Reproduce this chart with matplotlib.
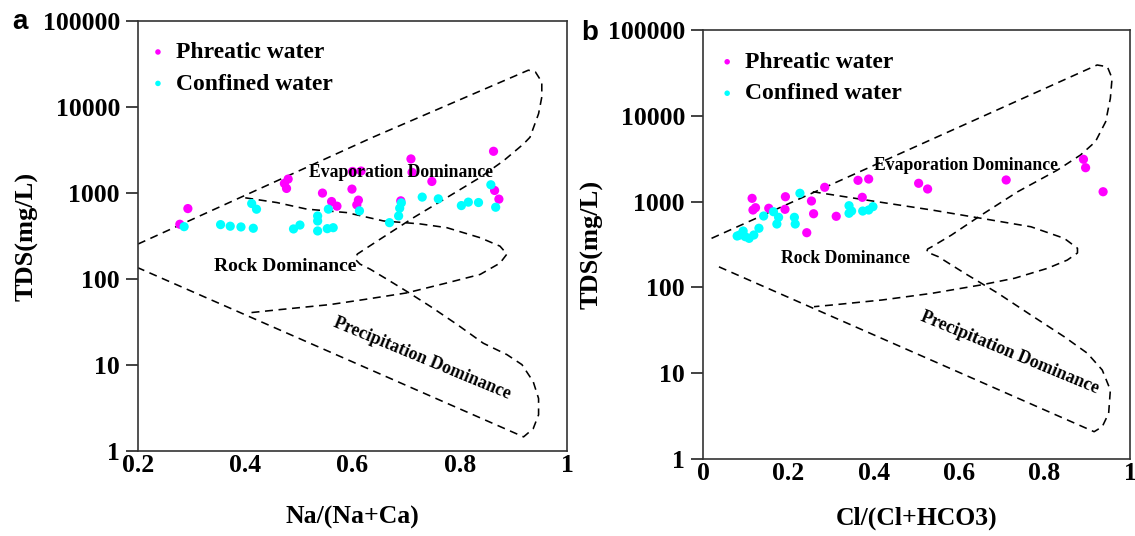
import matplotlib
matplotlib.use("Agg")
import matplotlib.pyplot as plt

plt.rcParams['font.family'] = ['Liberation Serif', 'DejaVu Serif']
plt.rcParams['font.weight'] = 'bold'

# ---------------- Panel a data: Na/(Na+Ca) vs TDS ----------------
a_phreatic_x = [0.278, 0.293, 0.473, 0.480, 0.477, 0.544, 0.561, 0.571, 0.599, 0.611,
                0.608, 0.690, 0.709, 0.711, 0.748, 0.863, 0.865, 0.873, 0.600, 0.616]
a_phreatic_tds = [433, 659, 1291, 1452, 1130, 998, 796, 703, 1110, 826,
                  728, 811, 2490, 1738, 1362, 3055, 1070, 849, 1780, 1800]

a_confined_x = [0.286, 0.354, 0.372, 0.392, 0.415, 0.412, 0.421, 0.490, 0.502, 0.535,
                0.535, 0.535, 0.553, 0.564, 0.555, 0.613, 0.669, 0.686, 0.688, 0.691,
                0.730, 0.760, 0.803, 0.816, 0.835, 0.858, 0.867]
a_confined_tds = [406, 429, 411, 403, 389, 754, 648, 382, 424, 362,
                  473, 541, 385, 395, 649, 620, 452, 541, 666, 767,
                  896, 855, 714, 783, 775, 1247, 683]

# Gibbs boundary (outer curve) for panel a
a_outer_x = [0.200, 0.638, 0.928, 0.941, 0.953, 0.953, 0.947, 0.931, 0.919, 0.882,
             0.838, 0.776, 0.714, 0.651, 0.609, 0.605, 0.614, 0.633, 0.664, 0.701,
             0.745, 0.795, 0.844, 0.888, 0.916, 0.937, 0.947, 0.947, 0.937, 0.919, 0.200]
a_outer_tds = [255, 4450, 26800, 25600, 19500, 13050, 8360, 4450, 3720, 2380,
               1517, 885, 518, 289, 195, 170, 149, 130, 99.6, 71.9,
               48.1, 29.6, 17.9, 13.2, 10.1, 6.40, 4.08, 2.64, 1.82, 1.46, 135]
# Rock dominance inner curve for panel a
a_rock_x = [0.400, 0.459, 0.515, 0.589, 0.658, 0.726, 0.776, 0.838, 0.875, 0.888,
            0.875, 0.838, 0.776, 0.701, 0.620, 0.558, 0.465, 0.403]
a_rock_tds = [879, 774, 649, 592, 473, 437, 395, 302, 241, 195,
              153, 113, 90, 68.9, 57.5, 50.4, 44.1, 40.2]

# ---------------- Panel b data: Cl/(Cl+HCO3) vs TDS ----------------
b_phreatic_x = [0.115, 0.117, 0.123, 0.154, 0.193, 0.192, 0.243, 0.254, 0.259, 0.285,
                0.312, 0.363, 0.388, 0.373, 0.505, 0.526, 0.710, 0.891, 0.896, 0.937]
b_phreatic_tds = [1091, 798, 849, 836, 1140, 813, 434, 1016, 722, 1468,
                  674, 1770, 1833, 1122, 1634, 1403, 1787, 3113, 2483, 1303]

b_confined_x = [0.080, 0.086, 0.094, 0.099, 0.108, 0.119, 0.131, 0.142, 0.165, 0.177,
                0.173, 0.214, 0.216, 0.227, 0.342, 0.342, 0.348, 0.374, 0.388, 0.398]
b_confined_tds = [397, 408, 454, 390, 373, 408, 489, 679, 762, 656,
                  548, 656, 548, 1250, 896, 731, 776, 776, 798, 873]

b_outer_x = [0.020, 0.923, 0.947, 0.958, 0.954, 0.943, 0.919, 0.884, 0.830, 0.737,
             0.652, 0.582, 0.536, 0.526, 0.524, 0.551, 0.613, 0.691, 0.768, 0.846,
             0.900, 0.935, 0.954, 0.950, 0.935, 0.916, 0.028]
b_outer_tds = [373, 39100, 37300, 27400, 16000, 8530, 4990, 3490, 2330, 1303,
               698, 408, 298, 280, 259, 228, 146, 85.3, 47.6, 26.6,
               17.1, 10.9, 6.37, 3.41, 2.38, 2.08, 182]
b_rock_x = [0.257, 0.381, 0.536, 0.652, 0.768, 0.846, 0.877, 0.877, 0.853, 0.807,
            0.730, 0.652, 0.536, 0.419, 0.303, 0.260]
b_rock_tds = [1303, 1045, 798, 638, 509, 373, 286, 252, 208, 167,
              128, 107, 85.3, 71.3, 62.4, 59.6]

y_ticks = [1, 10, 100, 1000, 10000, 100000]
y_tick_labels = ['1', '10', '100', '1000', '10000', '100000']
a_x_ticks = [0.2, 0.4, 0.6, 0.8, 1.0]
a_x_tick_labels = ['0.2', '0.4', '0.6', '0.8', '1']
b_x_ticks = [0, 0.2, 0.4, 0.6, 0.8, 1.0]
b_x_tick_labels = ['0', '0.2', '0.4', '0.6', '0.8', '1']

series_labels = ['Phreatic water', 'Confined water']
colors = ['#FF00FF', '#00FFFF']

fig = plt.figure(figsize=(11.35, 5.36), dpi=100)
ax_a = fig.add_axes([138/1135, (536-451)/536, 429/1135, 430/536])
ax_b = fig.add_axes([703/1135, (536-459)/536, 427/1135, 429/536])

dash = (0, (5, 3.5))


def style(ax, xlim, xticks, xlabels, xlabel, xlabelpad):
    ax.set_yscale('log')
    ax.set_xlim(*xlim)
    ax.set_ylim(1, 100000)
    ax.set_yticks(y_ticks)
    ax.set_yticklabels(y_tick_labels)
    ax.minorticks_off()
    ax.set_xticks(xticks)
    ax.set_xticklabels(xlabels)
    ax.tick_params(axis='y', direction='out', length=9, width=1.2, labelsize=18.5, pad=4, colors='#222222', labelcolor='black')
    ax.tick_params(axis='x', direction='out', length=0, labelsize=18.5, pad=2, labelcolor='black')
    for lab in ax.get_xticklabels() + ax.get_yticklabels():
        lab.set_fontweight('bold')
    for s in ax.spines.values():
        s.set_linewidth(1.2)
        s.set_color('#333333')
    ax.set_xlabel(xlabel, fontsize=18.5, fontweight='bold', labelpad=xlabelpad)
    ax.set_ylabel('TDS(mg/L)', fontsize=19, fontweight='bold', labelpad=3)


def draw(ax, px, py, cx, cy, ox, oy, rx, ry, anchor):
    ax.plot(ox, oy, color='black', lw=1.15, linestyle=dash)
    ax.plot(rx, ry, color='black', lw=1.15, linestyle=dash)
    ax.scatter(px, py, s=44, color=colors[0], edgecolors='none', label=series_labels[0], zorder=3)
    ax.scatter(cx, cy, s=44, color=colors[1], edgecolors='none', label=series_labels[1], zorder=3)
    leg = ax.legend(loc='upper left', bbox_to_anchor=anchor, frameon=False, markerscale=0.6,
                    handlelength=0.6, handletextpad=0.45, labelspacing=0.42, borderaxespad=0,
                    borderpad=0, prop={'size': 17, 'weight': 'bold'})
    return leg


draw(ax_a, a_phreatic_x, a_phreatic_tds, a_confined_x, a_confined_tds,
     a_outer_x, a_outer_tds, a_rock_x, a_rock_tds, (0.030, 0.952))
draw(ax_b, b_phreatic_x, b_phreatic_tds, b_confined_x, b_confined_tds,
     b_outer_x, b_outer_tds, b_rock_x, b_rock_tds, (0.040, 0.950))

style(ax_a, (0.2, 1.0), a_x_ticks, a_x_tick_labels, 'Na/(Na+Ca)', 21)
style(ax_b, (0.0, 1.0), b_x_ticks, b_x_tick_labels, 'Cl/(Cl+HCO3)', 16)

# region annotations
ax_a.text(0.691, 1722, 'Evaporation Dominance', fontsize=12.7, fontweight='bold', ha='center', va='center', zorder=4)
ax_a.text(0.474, 141, 'Rock Dominance', fontsize=14, fontweight='bold', ha='center', va='center')
ax_a.text(0.730, 11.9, 'Precipitation Dominance', fontsize=12.9, fontweight='bold', ha='center', va='center',
          rotation=-22.5, rotation_mode='anchor')

ax_b.text(0.616, 2670, 'Evaporation Dominance', fontsize=12.7, fontweight='bold', ha='center', va='center', zorder=4)
ax_b.text(0.333, 220, 'Rock Dominance', fontsize=12.7, fontweight='bold', ha='center', va='center')
ax_b.text(0.719, 17.2, 'Precipitation Dominance', fontsize=13, fontweight='bold', ha='center', va='center',
          rotation=-22.5, rotation_mode='anchor')

fig.text(20/1135, 1 - 22/536, 'a', fontsize=20, fontweight='bold', family=['Liberation Sans', 'DejaVu Sans'],
         ha='center', va='center')
fig.text(590/1135, 1 - 33/536, 'b', fontsize=20, fontweight='bold', family=['Liberation Sans', 'DejaVu Sans'],
         ha='center', va='center')

fig.savefig('out.png', dpi=100)
